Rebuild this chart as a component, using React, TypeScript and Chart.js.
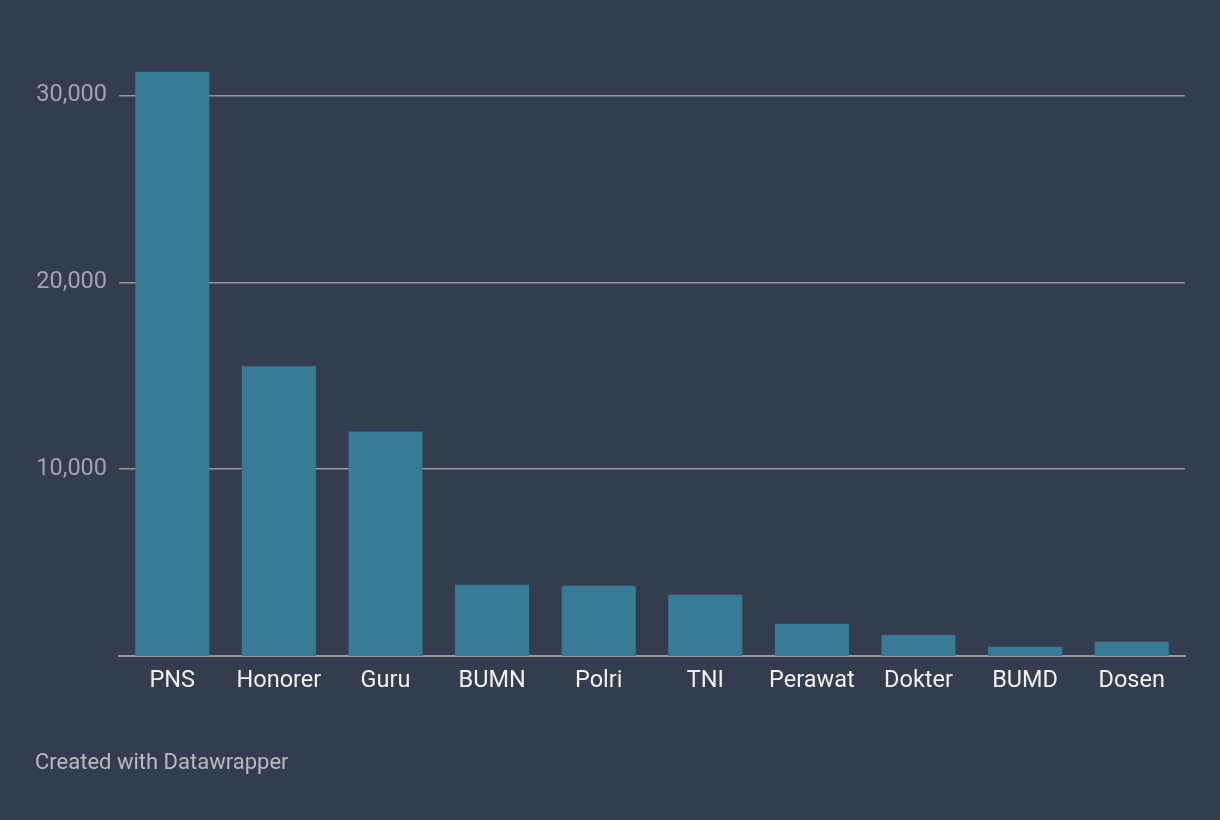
import React, { useEffect, useRef } from "react";
import { Chart, registerables } from "chart.js";

Chart.register(...registerables);

const categories = ["PNS", "Honorer", "Guru", "BUMN", "Polri", "TNI", "Perawat", "Dokter", "BUMD", "Dosen"];
const values = [31270, 15500, 12010, 3810, 3760, 3280, 1720, 1130, 490, 760];
const yTicks = [10000, 20000, 30000];

const BG = "#333d4d";
const BAR = "#387b97";

export default function App() {
  const ref = useRef<HTMLCanvasElement | null>(null);

  useEffect(() => {
    document.body.style.margin = "0";
    document.body.style.background = BG;
    const ctx = ref.current!.getContext("2d")!;
    const chart = new Chart(ctx, {
      type: "bar",
      data: {
        labels: categories,
        datasets: [
          {
            data: values,
            backgroundColor: BAR,
            borderWidth: 0,
            categoryPercentage: 1,
            barPercentage: 0.695,
          },
        ],
      },
      options: {
        animation: false,
        responsive: false,
        maintainAspectRatio: false,
        layout: { padding: { top: 58, right: 35, left: 0, bottom: 0 } },
        plugins: { legend: { display: false }, tooltip: { enabled: false } },
        scales: {
          x: {
            grid: { display: false, drawTicks: false },
            border: { display: true, color: "#9a9a9a", width: 2 },
            ticks: {
              color: "#f0f0f0",
              font: { family: "Roboto", size: 23.5 },
              padding: 11,
              maxRotation: 0,
            },
            afterFit: (scale: any) => {
              scale.height = 820 - 656;
            },
          },
          y: {
            min: 0,
            max: 32000,
            afterBuildTicks: (scale: any) => {
              scale.ticks = yTicks.map((v) => ({ value: v }));
            },
            grid: { color: "#9a9a9a", lineWidth: 1.5, drawTicks: false },
            border: { display: false },
            ticks: {
              color: "#a0a5ad",
              font: { family: "Roboto", size: 23.5 },
              padding: 12,
              callback: (v: any) => Number(v).toLocaleString("en-US"),
            },
            afterFit: (scale: any) => {
              scale.width = 119;
            },
          },
        },
      },
    });
    return () => chart.destroy();
  }, []);

  return (
    <div style={{ position: "relative", width: 1220, height: 820, background: BG, overflow: "hidden" }}>
      <canvas ref={ref} width={1220} height={820} style={{ display: "block" }} />
      <div
        style={{
          position: "absolute",
          left: 35,
          top: 748,
          fontFamily: "Roboto",
          fontSize: 22,
          color: "#b8bcc2",
          lineHeight: "28px",
        }}
      >
        Created with Datawrapper
      </div>
    </div>
  );
}
